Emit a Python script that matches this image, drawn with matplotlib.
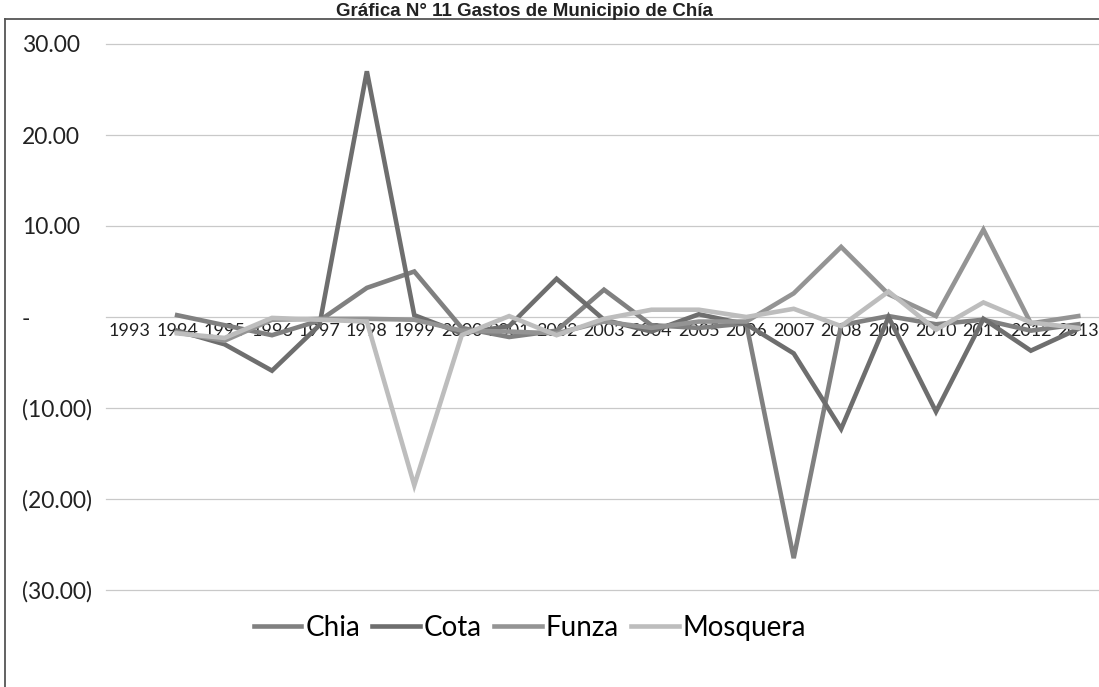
import numpy as np
import matplotlib
matplotlib.use("Agg")
import matplotlib.pyplot as plt
from matplotlib.lines import Line2D

years = [str(y) for y in range(1993, 2014)]
nan = np.nan
chia = [nan, 0.2, -0.9, -2.0, -0.4, 3.2, 5.0, -1.2, -2.2, -1.5, 3.0, -0.9, -1.2,
        -0.7, -26.5, -0.9, 0.1, -0.8, -0.3, -1.5, -0.8]
cota = [nan, -1.5, -3.0, -5.9, -0.9, 27.0, 0.2, -1.8, -1.0, 4.2, -0.3, -1.6, 0.3,
        -0.8, -4.0, -12.3, 0.0, -10.4, -0.2, -3.7, -1.3]
funza = [nan, -1.7, -2.6, -0.3, -0.2, -0.2, -0.3, -1.5, -1.6, -1.8, -0.5, -1.2, -0.5,
         -0.5, 2.6, 7.7, 2.5, 0.1, 9.6, -0.7, 0.1]
mosquera = [nan, -1.8, -2.3, -0.1, -0.3, -0.5, -18.5, -2.0, 0.1, -2.0, -0.2, 0.8, 0.8,
            0.0, 0.9, -1.0, 2.8, -1.4, 1.6, -0.6, -1.2]
series_names = ["Chia", "Cota", "Funza", "Mosquera"]
series_colors = ["#808080", "#6e6e6e", "#949494", "#bdbdbd"]
yticks = [30, 20, 10, 0, -10, -20, -30]
ytick_labels = ["30.00", "20.00", "10.00", "-", "(10.00)", "(20.00)", "(30.00)"]
title = "Gráfica N° 11 Gastos de Municipio de Chía"

plt.rcParams['font.family'] = ['Lato', 'DejaVu Sans']

W, H = 1099, 687
fig = plt.figure(figsize=(W / 100, H / 100), dpi=100)
left, right, top, bottom = 106, 1102, 44, 590
ax = fig.add_axes([left / W, 1 - bottom / H, (right - left) / W, (bottom - top) / H])

x = np.arange(len(years))
for name, vals, col in zip(series_names, [chia, cota, funza, mosquera], series_colors):
    ax.plot(x, vals, color=col, lw=3.3, label=name, solid_joinstyle='miter')

for s in ax.spines.values():
    s.set_visible(False)
ax.spines['bottom'].set_position(('data', 0))

ax.set_xlim(-0.5, len(years) - 0.5)
ax.set_ylim(-30, 30)
ax.set_yticks(yticks)
ax.set_yticklabels(ytick_labels, fontsize=16.5, color="#222222", ha='left')
ax.tick_params(axis='y', length=0, pad=(left - 22) * 0.72)
ax.set_xticks(x)
ax.set_xticklabels(years, fontsize=13, color="#222222")
ax.tick_params(axis='x', length=0, pad=4, labelsize=13)
ax.grid(axis='y', color="#c9c9c9", lw=0.9)
ax.set_axisbelow(True)
for gl in ax.get_ygridlines():
    gl.set_clip_on(False)

fig.legend(loc='center', bbox_to_anchor=(530 / W, 1 - 628 / H), ncol=4, frameon=False,
           fontsize=20, handlelength=1.7, handletextpad=0.15, columnspacing=0.45)

fig.text(524 / W, 1 - 16 / H, title, ha='center', va='baseline', fontsize=13.5,
         fontweight='bold', family='Liberation Sans', color="#222222")

fig.add_artist(Line2D([5 / W, 5 / W], [0, 1 - 19 / H], transform=fig.transFigure,
                      color="#555555", lw=1.3))
fig.add_artist(Line2D([5 / W, 1], [1 - 19 / H, 1 - 19 / H], transform=fig.transFigure,
                      color="#555555", lw=1.3))

fig.savefig("out.png", dpi=100)
